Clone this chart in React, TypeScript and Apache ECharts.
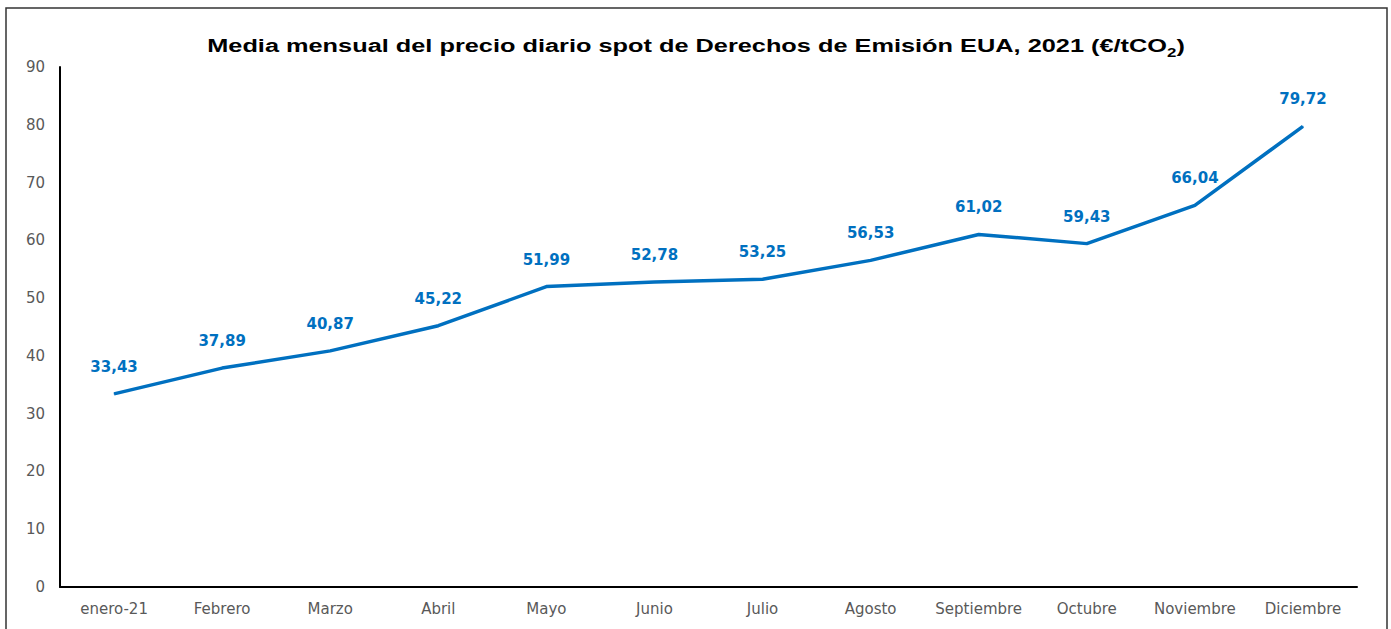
import React, { useEffect, useRef } from "react";
import * as echarts from "echarts";

const categories = ["enero-21", "Febrero", "Marzo", "Abril", "Mayo", "Junio", "Julio", "Agosto", "Septiembre", "Octubre", "Noviembre", "Diciembre"];
const prices = [33.43, 37.89, 40.87, 45.22, 51.99, 52.78, 53.25, 56.53, 61.02, 59.43, 66.04, 79.72];
const titleMain = "Media mensual del precio diario spot de Derechos de Emisión EUA, 2021 (€/tCO";
const titleSub = "2";
const titleEnd = ")";

export default function App() {
  const ref = useRef<HTMLDivElement>(null);
  useEffect(() => {
    document.body.style.margin = "0";
    const chart = echarts.init(ref.current!, null, { renderer: "svg" });

    // measure title width to stretch horizontally like the reference
    const mainFont = "bold 18px 'Liberation Sans'";
    const subFont = "bold 12px 'Liberation Sans'";
    let scale = 1.3;
    try {
      const c = document.createElement("canvas").getContext("2d")!;
      c.font = mainFont;
      const w1 = c.measureText(titleMain + titleEnd).width;
      c.font = subFont;
      const w2 = c.measureText(titleSub).width;
      scale = 978 / (w1 + w2);
    } catch (e) {}

    chart.setOption({
      animation: false,
      backgroundColor: "#ffffff",
      graphic: [
        {
          type: "rect",
          shape: { x: 6, y: 8, width: 1381, height: 640 },
          style: { fill: "none", stroke: "#333", lineWidth: 1.5 },
          silent: true,
          z: -1,
        },
        {
          type: "text",
          x: 696,
          y: 44,
          scaleX: scale,
          style: {
            text: `{m|${titleMain}}{s|${titleSub}}{m|${titleEnd}}`,
            align: "center",
            verticalAlign: "middle",
            rich: {
              m: { font: mainFont, fill: "#000", lineHeight: 22, verticalAlign: "bottom" },
              s: { font: subFont, fill: "#000", lineHeight: 22, verticalAlign: "bottom", padding: [0, 0, -4, 0] },
            },
          },
        },
      ],
      grid: { left: 60, right: 34, top: 67, bottom: 42, containLabel: false },
      xAxis: {
        type: "category",
        data: categories,
        boundaryGap: true,
        axisLine: { lineStyle: { color: "#000", width: 2 } },
        axisTick: { show: false },
        axisLabel: { color: "#595959", fontFamily: "DejaVu Sans", fontSize: 15, margin: 14, interval: 0 },
      },
      yAxis: {
        type: "value",
        min: 0,
        max: 90,
        interval: 10,
        axisLine: { show: true, lineStyle: { color: "#000", width: 2 } },
        axisTick: { show: false },
        splitLine: { show: false },
        axisLabel: { color: "#595959", fontFamily: "DejaVu Sans", fontSize: 15, margin: 15 },
      },
      series: [
        {
          type: "line",
          data: prices,
          symbol: "circle",
          symbolSize: 1,
          showSymbol: true,
          lineStyle: { color: "#0070C0", width: 3.5 },
          itemStyle: { color: "#0070C0" },
          label: {
            show: true,
            position: "top",
            distance: 19,
            color: "#0070C0",
            fontFamily: "DejaVu Sans",
            fontWeight: "bold",
            fontSize: 15,
            formatter: (p: any) => Number(p.value).toFixed(2).replace(".", ","),
          },
        },
      ],
    });
    return () => chart.dispose();
  }, []);
  return <div ref={ref} style={{ position: "absolute", left: 0, top: 0, width: 1391, height: 629 }} />;
}
